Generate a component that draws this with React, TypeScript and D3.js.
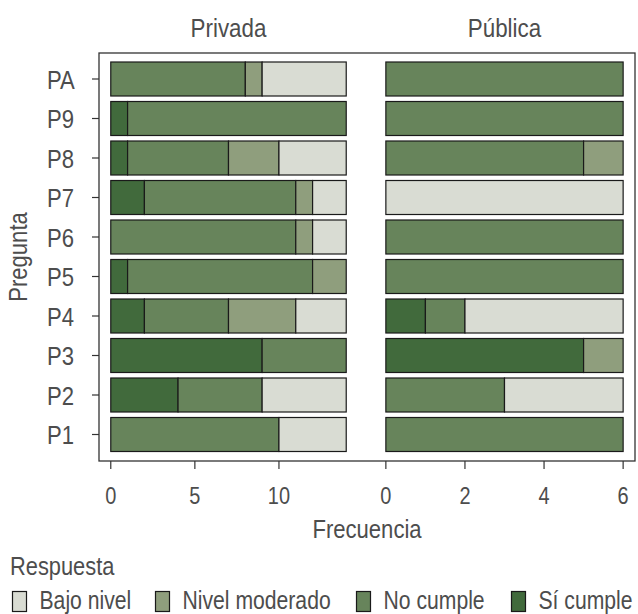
import React from "react";
import * as d3 from "d3";

const preguntas = ["PA", "P9", "P8", "P7", "P6", "P5", "P4", "P3", "P2", "P1"];
const respuestas = ["Sí cumple", "No cumple", "Nivel moderado", "Bajo nivel"];
const legendOrder = ["Bajo nivel", "Nivel moderado", "No cumple", "Sí cumple"];
const colores = ["#416a3c", "#67845b", "#8f9e7d", "#d9dcd3"];

// values per pregunta: [Sí cumple, No cumple, Nivel moderado, Bajo nivel]
const privada = [
  [0, 8, 1, 5],
  [1, 13, 0, 0],
  [1, 6, 3, 4],
  [2, 9, 1, 2],
  [0, 11, 1, 2],
  [1, 11, 2, 0],
  [2, 5, 4, 3],
  [9, 5, 0, 0],
  [4, 5, 0, 5],
  [0, 10, 0, 4],
];
const publica = [
  [0, 6, 0, 0],
  [0, 6, 0, 0],
  [0, 5, 1, 0],
  [0, 0, 0, 6],
  [0, 6, 0, 0],
  [0, 6, 0, 0],
  [1, 1, 0, 4],
  [5, 0, 1, 0],
  [0, 3, 0, 3],
  [0, 6, 0, 0],
];
const privadaTicks = [0, 5, 10];
const publicaTicks = [0, 2, 4, 6];

const FONT = "'Liberation Sans', Arial, sans-serif";
const TXT = "#4d4d4d";

function T(props: { x: number; y: number; fs: number; sx?: number; anchor?: string; rotate?: number; children: React.ReactNode }) {
  const { x, y, fs, sx = 0.85, anchor = "start", rotate = 0, children } = props;
  return (
    <g transform={`translate(${x},${y}) rotate(${rotate}) scale(${sx},1)`}>
      <text x={0} y={0} textAnchor={anchor} fontSize={fs} fill={TXT}>{children}</text>
    </g>
  );
}

export default function App() {
  const top = 53, bottom = 461, left = 99, right = 635;
  const y = d3.scalePoint<string>().domain(preguntas).range([79, 434.5]);
  const barH = 34;
  const panels = [
    { name: "Privada", data: privada, ticks: privadaTicks, x: d3.scaleLinear().domain([-0.7, 14.7]).range([left, 358]) },
    { name: "Pública", data: publica, ticks: publicaTicks, x: d3.scaleLinear().domain([-0.3, 6.3]).range([374, right]) },
  ];
  const stack = d3.stack<number[]>().keys([0, 1, 2, 3] as any).value((d: number[], k: any) => d[k]);

  return (
    <svg width={638} height={614} style={{ position: "absolute", left: 0, top: 0, background: "#fff" }} fontFamily={FONT}>
      <rect x={0} y={0} width={638} height={614} fill="#fff" />
      {panels.map((p) => {
        const series = stack(p.data);
        const [x0, x1] = p.x.range();
        return (
          <g key={p.name}>
            <T x={(x0 + x1) / 2} y={37} fs={26} sx={0.86} anchor="middle">{p.name}</T>
            {series.map((s, si) => (
              <g key={si}>
                {s.map((d, i) =>
                  d[1] - d[0] > 0 ? (
                    <rect
                      key={i}
                      x={p.x(d[0])}
                      y={(y(preguntas[i]) as number) - barH / 2}
                      width={p.x(d[1]) - p.x(d[0])}
                      height={barH}
                      fill={colores[si]}
                      stroke="#1a1a1a"
                      strokeWidth={1.2}
                    />
                  ) : null
                )}
              </g>
            ))}
            {p.ticks.map((t) => (
              <g key={t}>
                <line x1={p.x(t)} x2={p.x(t)} y1={bottom} y2={bottom + 8} stroke="#333" strokeWidth={1.2} />
                <T x={p.x(t)} y={504} fs={23.5} anchor="middle">{t}</T>
              </g>
            ))}
          </g>
        );
      })}
      <rect x={left} y={top} width={right - left} height={bottom - top} fill="none" stroke="#333" strokeWidth={1.3} />
      {preguntas.map((q) => (
        <g key={q}>
          <line x1={left - 7} x2={left} y1={y(q)} y2={y(q)} stroke="#333" strokeWidth={1.2} />
          <T x={47} y={(y(q) as number) + 9.5} fs={26} sx={0.85}>{q}</T>
        </g>
      ))}
      <T x={27} y={(top + bottom) / 2} fs={26} rotate={-90} anchor="middle">Pregunta</T>
      <T x={(left + right) / 2} y={538} fs={26} anchor="middle">Frecuencia</T>
      <T x={10} y={575} fs={26} sx={0.84}>Respuesta</T>
      {legendOrder.map((r, i) => {
        const bx = [12, 155, 356, 511][i];
        const ci = respuestas.indexOf(r);
        return (
          <g key={r}>
            <rect x={bx + 0.5} y={591.5} width={14} height={20} fill={colores[ci]} stroke="#1a1a1a" strokeWidth={1.2} />
            <T x={bx + 27.5} y={608.5} fs={25.5} sx={0.83}>{r}</T>
          </g>
        );
      })}
    </svg>
  );
}
